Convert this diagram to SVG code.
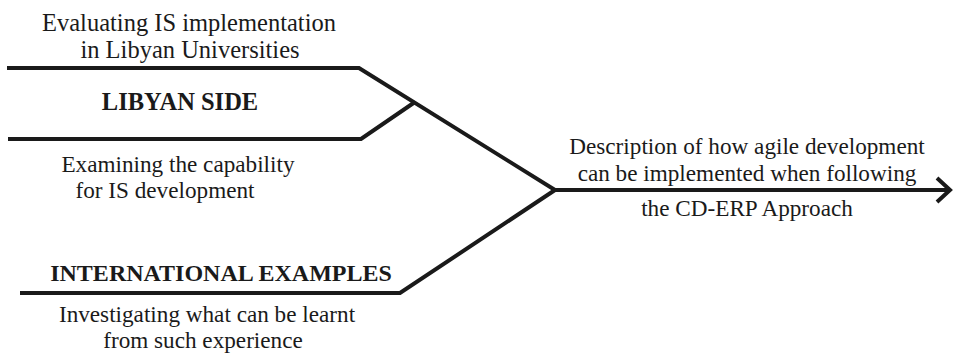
<svg xmlns="http://www.w3.org/2000/svg" width="955" height="359" viewBox="0 0 955 359">
  <style>
    .ln { fill: none; stroke: #1a1a1a; stroke-width: 4; stroke-linejoin: miter; }
    .t { font-family: "Liberation Serif", "Times New Roman", serif; font-size: 23.2px; fill: #1a1a1a; text-anchor: middle; }
    .lg { font-size: 24.5px; }
    .b { font-weight: bold; }
  </style>
  <g id="connectors">
    <!-- Libyan side branches merging -->
    <polyline class="ln" points="7,68 359,68 555,190"/>
    <polyline class="ln" points="8,139 361,139 415,102"/>
    <!-- international examples branch -->
    <polyline class="ln" points="20,293 400,293 555,190"/>
    <!-- outcome arrow -->
    <line class="ln" x1="555" y1="190" x2="948" y2="190"/>
    <polyline class="ln" points="937,178 950,190 937,202"/>
  </g>
  <g id="libyan-side">
    <text class="t lg" x="189" y="31">Evaluating IS implementation</text>
    <text class="t lg" x="190" y="58">in Libyan Universities</text>
    <text class="t lg b" x="180" y="110">LIBYAN SIDE</text>
    <text class="t" x="178" y="172">Examining the capability</text>
    <text class="t" x="165" y="198">for IS development</text>
  </g>
  <g id="international-examples">
    <text class="t b" x="221" y="281" style="font-size:24px">INTERNATIONAL EXAMPLES</text>
    <text class="t" x="207" y="322">Investigating what can be learnt</text>
    <text class="t" x="203" y="348">from such experience</text>
  </g>
  <g id="outcome">
    <text class="t" x="747" y="154">Description of how agile development</text>
    <text class="t" x="747" y="181">can be implemented when following</text>
    <text class="t" x="747" y="216">the CD-ERP Approach</text>
  </g>
</svg>
